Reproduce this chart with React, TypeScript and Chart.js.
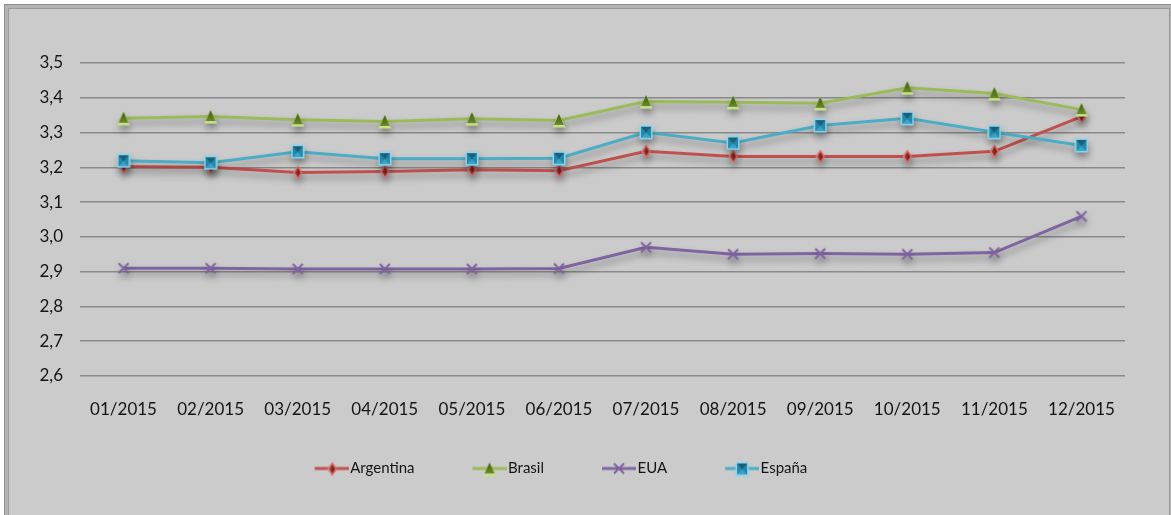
import React, { useEffect, useRef } from "react";
import { Chart, registerables } from "chart.js";

Chart.register(...registerables);

const categories = ["01/2015", "02/2015", "03/2015", "04/2015", "05/2015", "06/2015", "07/2015", "08/2015", "09/2015", "10/2015", "11/2015", "12/2015"];
const argentina = [3.202, 3.2, 3.185, 3.188, 3.193, 3.19, 3.246, 3.231, 3.231, 3.231, 3.246, 3.346];
const brasil = [3.341, 3.346, 3.337, 3.332, 3.34, 3.335, 3.389, 3.387, 3.384, 3.429, 3.412, 3.366];
const eua = [2.91, 2.91, 2.908, 2.908, 2.908, 2.909, 2.97, 2.95, 2.952, 2.95, 2.955, 3.059];
const espana = [3.219, 3.213, 3.245, 3.225, 3.225, 3.226, 3.301, 3.27, 3.32, 3.341, 3.301, 3.263];
const seriesNames = ["Argentina", "Brasil", "EUA", "España"];
const seriesColors = ["#c0504d", "#9bbb59", "#8064a2", "#4bacc6"];
const yMin = 2.6;
const yMax = 3.5;
const yStep = 0.1;

const FONT = "Lato, 'Open Sans', sans-serif";

function makeMarker(kind: string): HTMLCanvasElement {
  const c = document.createElement("canvas");
  const ctx = c.getContext("2d") as CanvasRenderingContext2D;
  if (kind === "diamond") {
    c.width = 11; c.height = 15;
    ctx.beginPath();
    ctx.moveTo(5.5, 0.5); ctx.lineTo(10.5, 7.5); ctx.lineTo(5.5, 14.5); ctx.lineTo(0.5, 7.5); ctx.closePath();
    ctx.fillStyle = "#d46763"; ctx.fill();
    ctx.beginPath();
    ctx.moveTo(5.5, 3); ctx.lineTo(8.2, 7.5); ctx.lineTo(5.5, 12); ctx.lineTo(2.8, 7.5); ctx.closePath();
    ctx.fillStyle = "#7e1b18"; ctx.fill();
    ctx.beginPath();
    ctx.moveTo(5.5, 0.5); ctx.lineTo(5.5, 14.5); ctx.lineTo(0.5, 7.5); ctx.closePath();
    ctx.fillStyle = "rgba(255,255,255,0.12)"; ctx.fill();
  } else if (kind === "triangle") {
    c.width = 14; c.height = 15;
    ctx.beginPath();
    ctx.moveTo(7, 0.5); ctx.lineTo(13.5, 14.5); ctx.lineTo(0.5, 14.5); ctx.closePath();
    ctx.fillStyle = "#c8e28c"; ctx.fill();
    const g = ctx.createLinearGradient(0, 0, 0, 13);
    g.addColorStop(0, "#3a5510"); g.addColorStop(1, "#6f8f2c");
    ctx.beginPath();
    ctx.moveTo(7, 1); ctx.lineTo(12, 12); ctx.lineTo(2, 12); ctx.closePath();
    ctx.fillStyle = g; ctx.fill();
  } else if (kind === "cross") {
    c.width = 14; c.height = 14;
    ctx.strokeStyle = "#7f62a1"; ctx.lineWidth = 2;
    ctx.beginPath();
    ctx.moveTo(2, 2); ctx.lineTo(12, 12); ctx.moveTo(12, 2); ctx.lineTo(2, 12);
    ctx.stroke();
  } else {
    c.width = 14; c.height = 15;
    ctx.fillStyle = "#8ad6ee"; ctx.fillRect(0.5, 0.5, 13, 14);
    ctx.fillStyle = "#2387aa"; ctx.fillRect(2, 2, 10, 11);
    ctx.beginPath();
    ctx.moveTo(2, 2); ctx.lineTo(12, 2); ctx.lineTo(7, 8); ctx.closePath();
    ctx.fillStyle = "#1a5f7a"; ctx.fill();
    ctx.beginPath();
    ctx.moveTo(2, 13); ctx.lineTo(12, 13); ctx.lineTo(7, 8); ctx.closePath();
    ctx.fillStyle = "#3aa3c6"; ctx.fill();
  }
  return c;
}

// legend swatch: transparent lead-in, then a 34px line with the marker in its middle
function makeLegendImg(color: string, marker: HTMLCanvasElement): HTMLCanvasElement {
  const c = document.createElement("canvas");
  c.width = 59; c.height = 16;
  const ctx = c.getContext("2d") as CanvasRenderingContext2D;
  ctx.strokeStyle = color; ctx.lineWidth = 3;
  ctx.beginPath(); ctx.moveTo(25, 8); ctx.lineTo(59, 8); ctx.stroke();
  ctx.drawImage(marker, Math.round(42 - marker.width / 2), Math.round(8 - marker.height / 2));
  return c;
}

const shadowPlugin = {
  id: "lineShadow",
  beforeDatasetsDraw(chart: any) {
    const ctx = chart.ctx;
    ctx.save();
    ctx.shadowColor = "rgba(0,0,0,0.35)";
    ctx.shadowBlur = 7;
    ctx.shadowOffsetX = 1;
    ctx.shadowOffsetY = 5;
  },
  afterDatasetsDraw(chart: any) {
    chart.ctx.restore();
  },
};

export default function App() {
  const ref = useRef<HTMLCanvasElement | null>(null);

  useEffect(() => {
    if (!ref.current) return;
    const kinds = ["diamond", "triangle", "cross", "square"];
    const markers = kinds.map((k) => makeMarker(k));
    const legendImgs = markers.map((m, i) => makeLegendImg(seriesColors[i], m));
    const values = [argentina, brasil, eua, espana];
    const orders = [4, 3, 2, 1];

    const chart = new Chart(ref.current, {
      type: "line",
      data: {
        labels: categories,
        datasets: values.map((vals, i) => ({
          label: seriesNames[i],
          data: vals,
          borderColor: seriesColors[i],
          backgroundColor: seriesColors[i],
          borderWidth: 3,
          pointStyle: markers[i] as any,
          pointRadius: 6,
          tension: 0,
          fill: false,
          order: orders[i],
        })),
      },
      options: {
        responsive: false,
        animation: false,
        events: [],
        layout: { padding: { left: -22, right: 46, top: 63, bottom: 29 } },
        plugins: {
          title: { display: false },
          tooltip: { enabled: false },
          legend: {
            display: true,
            position: "bottom",
            labels: {
              usePointStyle: true,
              pointStyleWidth: 47,
              padding: 39,
              color: "#141414",
              font: { family: FONT, size: 15 },
              generateLabels: (ch: any) =>
                ch.data.datasets.map((ds: any, i: number) => ({
                  text: ds.label,
                  pointStyle: legendImgs[i],
                  fillStyle: "transparent",
                  strokeStyle: "transparent",
                  lineWidth: 0,
                  hidden: false,
                  datasetIndex: i,
                  fontColor: "#141414",
                })),
            },
          },
        },
        scales: {
          x: {
            type: "category",
            offset: true,
            grid: { display: false, drawTicks: false },
            border: { display: false },
            ticks: {
              color: "#141414",
              font: { family: FONT, size: 17 },
              padding: 23,
              maxRotation: 0,
              autoSkip: false,
            },
            afterFit: (s: any) => { s.height = 46; },
          },
          y: {
            min: yMin,
            max: yMax,
            border: { display: false },
            grid: { color: "#8a8a8a", lineWidth: 1.5, drawTicks: false },
            ticks: {
              stepSize: yStep,
              color: "#141414",
              font: { family: FONT, size: 17 },
              padding: 17,
              callback: (v: any) => Number(v).toFixed(1).replace(".", ","),
            },
            afterFit: (s: any) => { s.width = 102; },
          },
        },
      },
      plugins: [shadowPlugin],
    });
    return () => chart.destroy();
  }, []);

  return (
    <div style={{ position: "absolute", left: 0, top: 0, width: 1171, height: 515, overflow: "hidden", background: "#ffffff" }}>
      <div style={{ position: "absolute", left: 4, top: 4, width: 1180, height: 600, background: "#b4b4b4", borderTop: "1px solid #8c8c8c", borderLeft: "1px solid #8c8c8c" }} />
      <div style={{ position: "absolute", left: 8, top: 8, width: 1160, height: 600, background: "#cbcbcb", borderTop: "1px solid #9a9a9a", borderLeft: "1px solid #9a9a9a", borderRight: "1px solid #9a9a9a" }} />
      <canvas ref={ref} width={1171} height={515} style={{ position: "absolute", left: 0, top: 0, width: 1171, height: 515 }} />
    </div>
  );
}
